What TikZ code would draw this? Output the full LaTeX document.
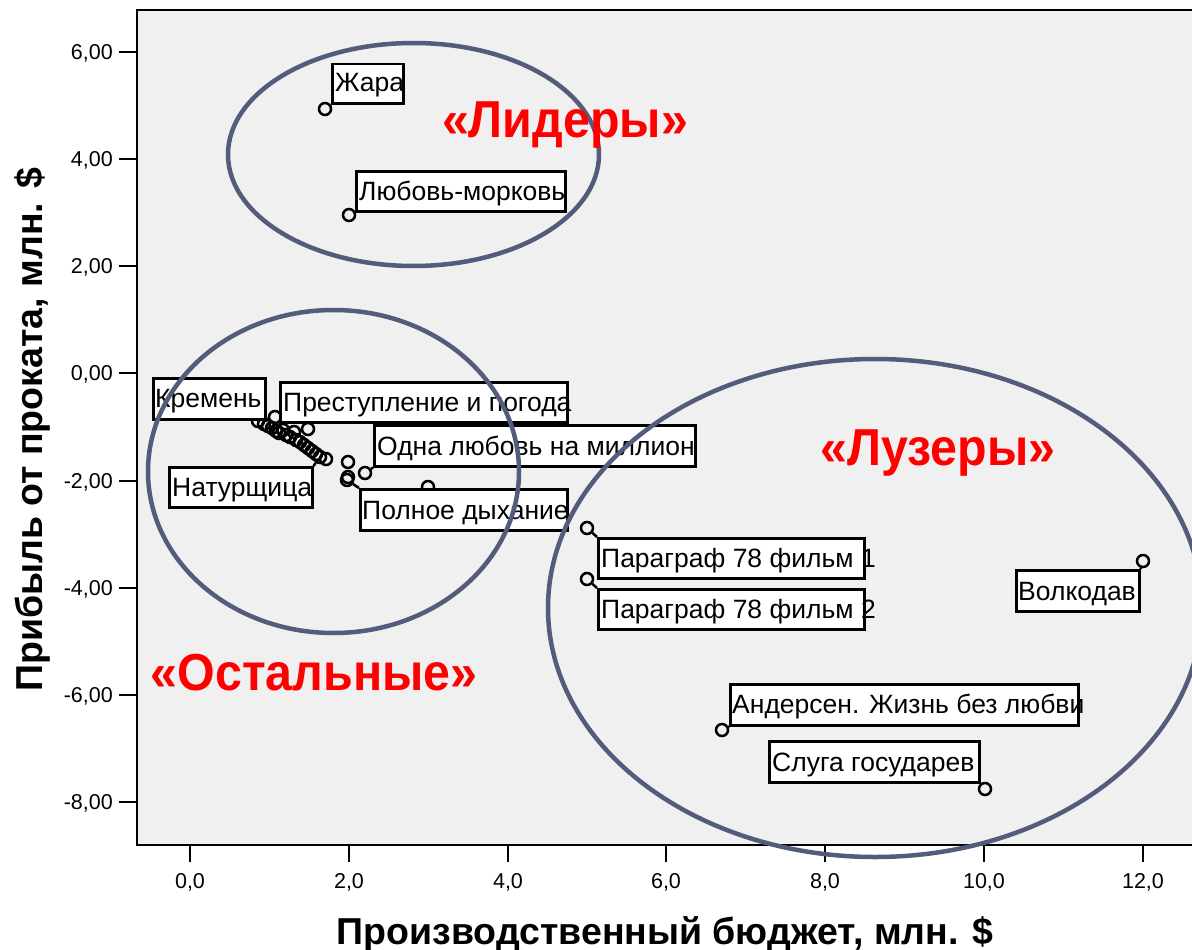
\documentclass[tikz,border=0pt]{standalone}
\usepackage{fontspec}
\setmainfont{Liberation Sans}
\definecolor{slate}{RGB}{84,92,124}
\definecolor{plotbg}{RGB}{240,240,240}
\definecolor{ttlred}{RGB}{255,0,0}
\begin{document}
\begin{tikzpicture}[x=1pt,y=-1pt,
  pt/.style={circle,draw=black,line width=2.5pt,minimum size=12pt,inner sep=0pt},
  lbox/.style={draw=black,line width=2.5pt,fill=white,inner sep=0pt,anchor=north west},
  ltext/.style={anchor=base west,inner sep=0pt,font=\fontsize{26.5}{29}\selectfont},
  conn/.style={line width=2.5pt},
  grp/.style={draw=slate,line width=4.5pt},
  ttl/.style={text=ttlred,font=\fontsize{52}{58}\selectfont\bfseries,anchor=base,inner sep=0pt,xscale=0.93},
  tickst/.style={line width=2.5pt},
  ticklbl/.style={font=\fontsize{21.5}{24}\selectfont,inner sep=0pt},
  axt/.style={font=\fontsize{37.5}{42}\selectfont\bfseries,inner sep=0pt,anchor=base}]
\useasboundingbox (0,0) rectangle (1192,950);
\clip (0,0) rectangle (1192,950);
\fill[white] (0,0) rectangle (1192,950);
% plot area
\fill[plotbg] (137,10) rectangle (1210,845);
\draw[line width=2.5pt] (1210,10) -- (137,10) -- (137,845) -- (1210,845);
% y ticks
\foreach \yv/\lab in {52/{6,00},159/{4,00},266/{2,00},373/{0,00},481/{-2,00},588/{-4,00},695/{-6,00},802/{-8,00}}{
  \draw[tickst] (119,\yv) -- (137,\yv);
  \node[ticklbl,anchor=base east] at (113,\yv+7.5) {\lab};
}
% x ticks
\foreach \xv/\lab in {190/{0,0},349/{2,0},508/{4,0},666/{6,0},825/{8,0},984/{10,0},1143/{12,0}}{
  \draw[tickst] (\xv,845) -- (\xv,862);
  \node[ticklbl,anchor=base] at (\xv,888) {\lab};
}
% axis titles
\node[axt] (xt) at (665,944) {Производственный бюджет, млн. \$};
\node[axt,rotate=90] (yt) at (42,430) {Прибыль от проката, млн. \$};
% cluster points
\foreach \px/\py [count=\i] in {258/421,264/424,268/426,272/428,275/417,276/431,279/433,283/430,286/435,290/437,294/432,296/440,300/442,304/445,308/429,308/448,312/451,316/454,320/457,326/459,348/462,348/477,347/480,428/487}{
  \node[pt] (c\i) at (\px,\py) {};
}
% labelled points
\node[pt] (p1) at (325,109) {};
\node[pt] (p2) at (349,215) {};
\node[pt] (p5) at (365,473) {};
\node[pt] (p8) at (587,528) {};
\node[pt] (p9) at (587,579) {};
\node[pt] (p10) at (1143,561) {};
\node[pt] (p11) at (722,730) {};
\node[pt] (p12) at (985,789) {};
% boxes
\node[lbox,minimum width=71pt,minimum height=39pt] (b1) at (331,63) {};
\node[lbox,minimum width=209pt,minimum height=40pt] (b2) at (355,170) {};
\node[lbox,minimum width=112pt,minimum height=41pt] (b3) at (152,377) {};
\node[lbox,minimum width=287pt,minimum height=40pt] (b4) at (279,381) {};
\node[lbox,minimum width=321pt,minimum height=41pt] (b5) at (373,424) {};
\node[lbox,minimum width=143pt,minimum height=40pt] (b6) at (168,466) {};
\node[lbox,minimum width=207pt,minimum height=41pt] (b7) at (359,488) {};
\node[lbox,minimum width=266pt,minimum height=40pt] (b8) at (597,537) {};
\node[lbox,minimum width=266pt,minimum height=40pt] (b9) at (597,588) {};
\node[lbox,minimum width=123pt,minimum height=41pt] (b10) at (1015,569) {};
\node[lbox,minimum width=348pt,minimum height=41pt] (b11) at (729,683) {};
\node[lbox,minimum width=210pt,minimum height=41pt] (b12) at (768,740) {};
% connectors
\draw[conn] (p1) -- (b1.south west);
\draw[conn] (p2) -- (b2.south west);
\draw[conn] (c1) -- (b3.south east);
\draw[conn] (c5) -- (b4.south west);
\draw[conn] (p5) -- (b5.south west);
\draw[conn] (c19) -- (b6.north east);
\draw[conn] (c23) -- (b7.north west);
\draw[conn] (p8) -- (b8.north west);
\draw[conn] (p9) -- (b9.north west);
\draw[conn] (p10) -- (b10.north east);
\draw[conn] (p11) -- (b11.south west);
\draw[conn] (p12) -- (b12.south east);
% texts
\node[ltext] (t1) at (335,92) {Жара};
\node[ltext] (t2) at (359,200) {Любовь-морковь};
\node[ltext] (t3) at (155,407) {Кремень};
\node[ltext] (t4) at (283,411) {Преступление и погода};
\node[ltext] (t5) at (377,455) {Одна любовь на миллион};
\node[ltext] (t6) at (172,496) {Натурщица};
\node[ltext] (t7) at (362,519) {Полное дыхание};
\node[ltext] (t8) at (601,567) {Параграф 78 фильм 1};
\node[ltext] (t9) at (601,618) {Параграф 78 фильм 2};
\node[ltext] (t10) at (1018,600) {Волкодав};
\node[ltext] (t11) at (732,713) {Андерсен. Жизнь без любви};
\node[ltext] (t12) at (772,771) {Слуга государев};
% group ellipses
\draw[grp] (413.5,154.5) ellipse [x radius=185.5pt, y radius=111.5pt];
\draw[grp] (333.5,471.5) ellipse [x radius=185.5pt, y radius=161.5pt];
\draw[grp] (875,608) ellipse [x radius=327pt, y radius=249pt];
% group titles
\node[ttl] (g1) at (565,137) {«Лидеры»};
\node[ttl] (g2) at (938,465) {«Лузеры»};
\node[ttl] (g3) at (314,690) {«Остальные»};
\end{tikzpicture}
\end{document}
